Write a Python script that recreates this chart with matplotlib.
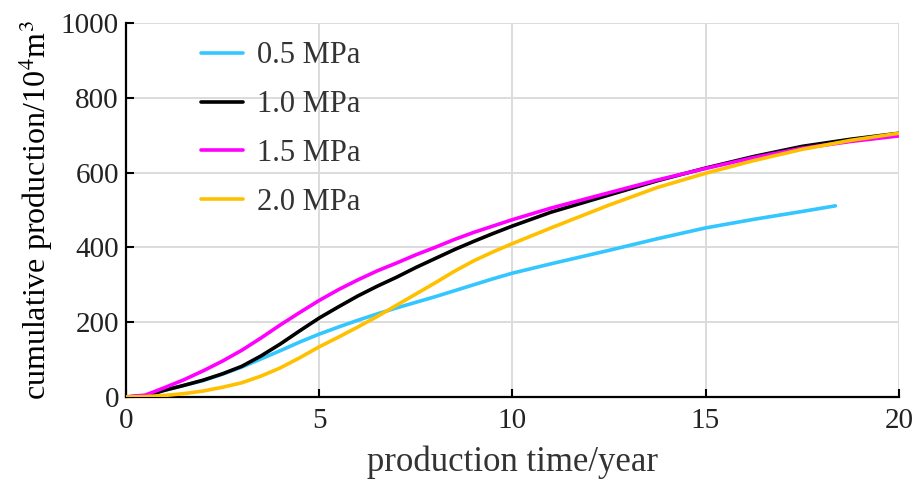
import matplotlib.pyplot as plt

plt.rcParams["font.family"] = ["Liberation Serif", "DejaVu Serif"]
plt.rcParams["mathtext.fontset"] = "stix"

# production time (years)
years = [0, 0.5, 1, 1.5, 2, 2.5, 3, 3.5, 4, 4.5, 5, 5.5, 6, 6.5, 7, 7.5, 8, 8.5,
         9, 9.5, 10, 11, 12.5, 13.75, 15, 16.25, 17.5, 18.75, 20]
years_05 = [0, 0.5, 1, 1.5, 2, 2.5, 3, 3.5, 4, 4.5, 5, 5.5, 6, 6.5, 7, 7.5, 8, 8.5,
            9, 9.5, 10, 11, 12.5, 13.75, 15, 16.25, 17.5, 18.36]

# cumulative production (10^4 m^3)
prod_05 = [0, 3, 18, 31, 44, 61, 80, 102, 124, 147, 168, 187, 205, 222, 238, 253,
           268, 284, 300, 316, 331, 356, 392, 423, 452, 475, 496, 511]
prod_10 = [0, 3, 18, 31, 45, 62, 82, 110, 142, 177, 211, 241, 270, 296, 320, 346,
           370, 394, 416, 437, 457, 494, 540, 578, 612, 643, 670, 689, 705]
prod_15 = [0, 5, 25, 46, 70, 96, 125, 158, 193, 226, 258, 287, 313, 337, 358, 380,
           400, 421, 440, 457, 474, 505, 546, 580, 611, 640, 665, 683, 698]
prod_20 = [0, 1, 4, 9, 16, 26, 38, 56, 78, 105, 134, 160, 187, 215, 245, 275,
           305, 336, 364, 388, 410, 452, 513, 560, 598, 632, 662, 686, 705]

labels = ["0.5 MPa", "1.0 MPa", "1.5 MPa", "2.0 MPa"]
colors = ["#33c6ff", "#000000", "#ff00ff", "#ffc000"]

fig = plt.figure(figsize=(9.19, 4.88), dpi=100)
ax = fig.add_axes([0.137, 0.1865, 0.841, 0.7665])

series = [(years_05, prod_05), (years, prod_10), (years, prod_15), (years, prod_20)]
for (xs, ys), lab, col in zip(series, labels, colors):
    ax.plot(xs, ys, color=col, lw=2.6, label=lab, solid_capstyle="round",
            solid_joinstyle="round", zorder=3)

ax.set_xlim(0, 20)
ax.set_ylim(0, 1000)
ax.set_xticks([0, 5, 10, 15, 20])
ax.set_yticks([0, 200, 400, 600, 800, 1000])

ax.grid(True, color="#d9d9d9", lw=1.3)
ax.set_axisbelow(True)
for side in ["top", "right"]:
    ax.spines[side].set_visible(False)
for side in ["left", "bottom"]:
    ax.spines[side].set_linewidth(1.6)

ax.tick_params(direction="in", length=6, width=1.5, labelsize=21,
               labelcolor="#222222")
ax.tick_params(axis="x", pad=8)
ax.tick_params(axis="y", pad=5)

ax.set_xlabel("production time/year", fontsize=25, color="#333333", labelpad=8)
ax.set_ylabel(r"cumulative production/10$^4$m$^3$", fontsize=23, labelpad=4)

ax.legend(loc="upper left", bbox_to_anchor=(0.061, 1.024), frameon=False,
          fontsize=22, handlelength=1.4, handletextpad=0.45,
          labelspacing=0.65, labelcolor="#333333")

plt.savefig("out.png", dpi=100)
